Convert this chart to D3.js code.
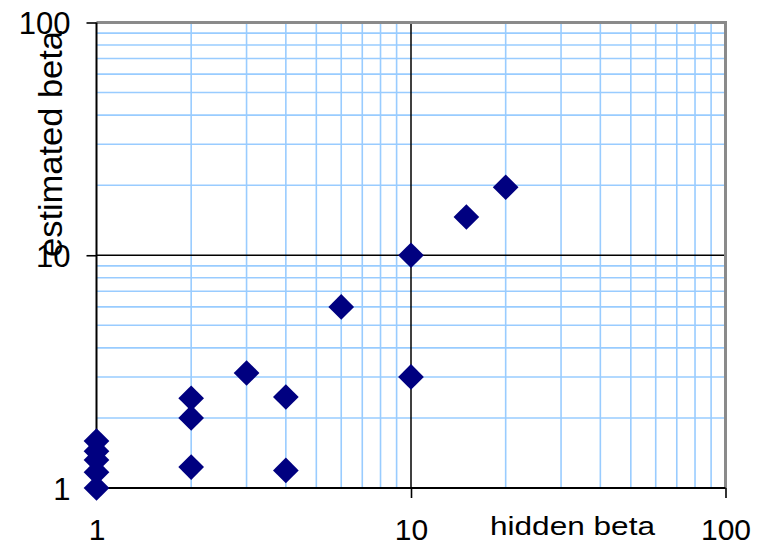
<!DOCTYPE html>
<html>
<head>
<meta charset="utf-8">
<script src="https://cdn.jsdelivr.net/npm/d3@7"></script>
<style>
  html, body { margin: 0; padding: 0; background: #fff; }
  svg { display: block; font-family: "Liberation Sans", Arial, sans-serif; }
</style>
</head>
<body>
<svg id="chart" width="769" height="547"></svg>
<script>
// ---- data ----
const hiddenBeta    = [1, 1, 1, 1, 1, 2, 2, 2, 3, 4, 4, 6, 10, 10, 15, 20];
const estimatedBeta = [1, 1.17, 1.32, 1.44, 1.59, 1.23, 2.0, 2.43, 3.12, 2.46, 1.19, 6, 10, 3, 14.6, 19.6];
const tickValues = [1, 10, 100];
const tickLabels = ["1", "10", "100"];
const xTitle = "hidden beta";
const yTitle = "estimated beta";

// ---- layout ----
const svg = d3.select("#chart");
const L = 96.5, R = 725.5, T = 22.5, B = 488;
const x = d3.scaleLog().domain([1, 100]).range([L, R]);
const y = d3.scaleLog().domain([1, 100]).range([B, T]);

const minor = [];
for (const dec of [1, 10]) for (let k = 2; k <= 9; k++) minor.push(dec * k);

const grid = svg.append("g");
// minor gridlines
grid.selectAll(".vx").data(minor).join("line")
  .attr("x1", d => x(d)).attr("x2", d => x(d))
  .attr("y1", T).attr("y2", B)
  .attr("stroke", "#99ccff").attr("stroke-width", 1.6);
grid.selectAll(".hy").data(minor).join("line")
  .attr("x1", L).attr("x2", R)
  .attr("y1", d => y(d)).attr("y2", d => y(d))
  .attr("stroke", "#99ccff").attr("stroke-width", 1.6);
// major gridlines (10)
grid.append("line").attr("x1", x(10)).attr("x2", x(10)).attr("y1", T).attr("y2", B)
  .attr("stroke", "#000").attr("stroke-width", 1.5);
grid.append("line").attr("x1", L).attr("x2", R).attr("y1", y(10)).attr("y2", y(10))
  .attr("stroke", "#000").attr("stroke-width", 1.5);

// border top/right (gray)
svg.append("path")
  .attr("d", `M${L},${T} H${R} V${B}`)
  .attr("fill", "none").attr("stroke", "#8a8a8a").attr("stroke-width", 3);

// axes
const xAxis = d3.axisBottom(x).tickValues(tickValues).tickFormat((d, i) => tickLabels[i])
  .tickSize(10).tickPadding(6);
const yAxis = d3.axisLeft(y).tickValues(tickValues).tickFormat((d, i) => tickLabels[i])
  .tickSize(10).tickPadding(16);

const gx = svg.append("g").attr("transform", `translate(0,${B})`).call(xAxis);
gx.select(".domain").attr("stroke", "#000").attr("stroke-width", 2).attr("d", `M${L},0H${R}`);
gx.selectAll(".tick line").attr("stroke", "#000").attr("stroke-width", 1.6);
gx.selectAll(".tick text").attr("fill", "#000").attr("font-size", 30)
  .attr("y", 52).attr("dy", 0).attr("font-family", "Liberation Sans, Arial, sans-serif");

const gy = svg.append("g").attr("transform", `translate(${L},0)`).call(yAxis);
gy.select(".domain").attr("stroke", "#000").attr("stroke-width", 2).attr("d", `M0,${T}V${B}`);
gy.selectAll(".tick line").attr("stroke", "#000").attr("stroke-width", 1.6);
gy.selectAll(".tick text").attr("fill", "#000").attr("font-size", 31)
  .attr("x", -26).attr("dy", "0.36em").attr("font-family", "Liberation Sans, Arial, sans-serif");

// titles
svg.append("text")
  .attr("x", 490).attr("y", 535)
  .attr("font-size", 26).attr("fill", "#000")
  .attr("textLength", 165).attr("lengthAdjust", "spacingAndGlyphs")
  .text(xTitle);

svg.append("text")
  .attr("transform", "translate(62,144) rotate(-90)")
  .attr("text-anchor", "middle")
  .attr("font-size", 34).attr("fill", "#000")
  .attr("textLength", 226).attr("lengthAdjust", "spacingAndGlyphs")
  .text(yTitle);

// points
const pts = hiddenBeta.map((h, i) => ({ h, e: estimatedBeta[i] }));
const sym = d3.symbol().type(d3.symbolSquare).size(330);
svg.append("g").selectAll("path").data(pts).join("path")
  .attr("d", sym)
  .attr("transform", d => `translate(${x(d.h)},${y(d.e)}) rotate(45)`)
  .attr("fill", "#000080");
</script>
</body>
</html>
